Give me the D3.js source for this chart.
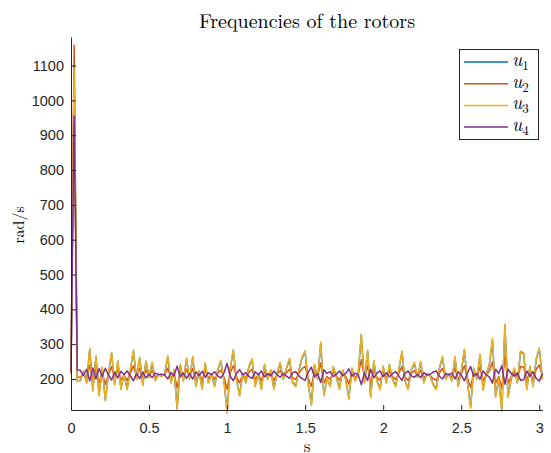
<!DOCTYPE html>
<html>
<head>
<meta charset="utf-8">
<script src="https://cdn.jsdelivr.net/npm/d3@7"></script>
<style>
  body { margin: 0; background: #fff; }
  svg { display: block; }
</style>
</head>
<body>
<div id="chart"></div>
<script>
// sample spacing in seconds (index * dt gives the time)
const dt = 0.02;

const u1 = [215,1085,195,196,222,190,286,168,264,154,
  232,140,215,274,185,250,173,212,172,225,
  281,200,260,183,250,205,246,197,212,208,
  214,264,190,225,116,240,195,257,200,262,
  180,222,173,245,190,215,180,225,251,195,
  106,230,282,200,154,215,190,235,255,180,
  215,172,240,200,225,172,215,245,200,230,
  257,190,180,225,260,278,185,128,240,200,
  303,154,200,180,235,205,172,225,200,145,
  230,195,215,326,190,280,150,250,195,172,
  235,190,240,200,180,225,278,195,172,225,
  245,205,248,190,215,210,185,172,230,262,
  200,215,195,262,180,220,283,190,120,230,
  200,268,170,215,240,312,150,200,111,355,
  150,200,230,190,278,272,172,235,180,255,
  287,200];

const u2 = [220,1158,205,205,215,203,240,195,231,189,
  219,184,213,235,201,226,197,211,196,216,
  238,207,230,200,226,209,224,206,211,210,
  212,231,203,216,175,222,205,228,207,230,
  199,215,197,224,203,213,199,216,226,205,
  171,218,238,207,189,213,203,220,228,199,
  213,196,222,207,216,196,213,224,207,218,
  228,203,199,216,230,236,201,179,222,207,
  246,189,207,199,220,209,196,216,207,186,
  218,205,213,255,203,237,188,226,205,196,
  220,203,222,207,199,216,236,205,196,216,
  224,209,225,203,213,211,201,196,218,230,
  207,213,205,230,199,214,238,203,176,218,
  207,233,195,213,222,249,188,207,173,266,
  188,207,218,203,236,234,196,220,199,228,
  240,207];

const u3 = [218,1092,193,198,224,188,289,165,267,151,
  234,137,217,277,183,253,170,214,169,228,
  284,198,263,181,252,203,249,195,213,207,
  215,267,188,227,112,243,193,260,198,265,
  178,224,170,248,188,216,178,227,254,193,
  102,232,285,198,151,217,188,237,258,178,
  216,169,243,198,227,170,216,248,198,232,
  260,188,177,227,263,281,183,124,243,198,
  306,151,202,178,237,204,170,227,198,142,
  232,193,216,329,188,283,147,253,193,169,
  237,188,243,198,177,227,281,193,169,227,
  248,204,251,188,216,209,183,169,232,265,
  198,216,193,265,178,222,286,188,116,232,
  198,271,167,216,243,316,147,202,107,358,
  147,202,232,188,281,275,169,237,178,258,
  290,198];

const u4 = [220,955,226,225,210,228,194,232,200,230,
  208,231,212,197,220,203,222,213,223,209,
  195,216,201,220,203,214,204,217,213,214,
  212,200,218,209,237,206,217,202,216,200,
  221,210,222,205,218,212,221,209,203,217,
  245,208,195,216,227,212,218,207,202,221,
  212,223,206,216,209,223,212,205,216,208,
  202,218,221,209,201,196,220,234,206,216,
  190,227,216,221,207,214,223,209,216,229,
  208,217,212,184,218,196,228,203,217,223,
  207,218,206,216,221,209,196,217,223,209,
  205,214,204,218,212,213,220,223,208,200,
  216,212,217,200,221,211,195,218,236,208,
  216,199,223,212,206,188,228,216,238,185,
  228,216,208,218,196,198,223,207,221,202,
  194,216];

const seriesNames = ["1", "2", "3", "4"];
const seriesColors = ["#0072BD", "#D95319", "#EDB120", "#7E2F8E"];
const xTicks = [0, 0.5, 1, 1.5, 2, 2.5, 3];
const yTicks = [200, 300, 400, 500, 600, 700, 800, 900, 1000, 1100];

const svgWidth = 551;
const svgHeight = 453;
const axisColor = "#262626";

const svg = d3.select("#chart")
  .append("svg")
  .attr("width", svgWidth)
  .attr("height", svgHeight);

const xScale = d3.scaleLinear()
  .domain([0, (u1.length - 1) * dt])
  .range([71, 542.4]);

const yScale = d3.scaleLinear()
  .domain([111, 1182])
  .range([410, 37]);

// lines, drawn in MATLAB order so u4 ends on top
const line = d3.line()
  .x((d, i) => xScale(i * dt))
  .y((d) => yScale(d));

[u1, u2, u3, u4].forEach((s, k) => {
  svg.append("path")
    .datum(s)
    .attr("fill", "none")
    .attr("stroke", seriesColors[k])
    .attr("stroke-width", 1.5)
    .attr("stroke-linejoin", "round")
    .attr("d", line);
});

// axes (ticks point inward, no box)
const xAxis = svg.append("g")
  .attr("transform", `translate(0,${yScale.range()[0]})`)
  .call(d3.axisBottom(xScale).tickValues(xTicks).tickSizeInner(-5).tickSizeOuter(0).tickPadding(13)
    .tickFormat(d3.format("")));

const yAxis = svg.append("g")
  .attr("transform", `translate(${xScale.range()[0]},0)`)
  .call(d3.axisLeft(yScale).tickValues(yTicks).tickSizeInner(-5).tickSizeOuter(0).tickPadding(7)
    .tickFormat(d3.format("d")));

[xAxis, yAxis].forEach((g) => {
  g.select(".domain").attr("stroke", axisColor).attr("stroke-width", 1);
  g.selectAll(".tick line").attr("stroke", axisColor);
  g.selectAll(".tick text")
    .attr("fill", axisColor)
    .style("font-family", "'Liberation Sans', Arial, sans-serif")
    .style("font-size", "14.5px");
});

// title and axis labels (LaTeX style serif)
const serif = "'Latin Modern Roman', 'CMU Serif', 'Liberation Serif', 'DejaVu Serif', serif";

svg.append("text")
  .attr("x", 307)
  .attr("y", 28)
  .attr("text-anchor", "middle")
  .style("font-family", serif)
  .style("font-size", "20px")
  .attr("fill", "#000")
  .text("Frequencies of the rotors");

svg.append("text")
  .attr("x", 307)
  .attr("y", 452)
  .attr("text-anchor", "middle")
  .style("font-family", serif)
  .style("font-size", "17px")
  .text("s");

svg.append("text")
  .attr("transform", "translate(24,225) rotate(-90)")
  .attr("text-anchor", "middle")
  .style("font-family", serif)
  .style("font-size", "16px")
  .text("rad/s");

// legend
const legend = svg.append("g").attr("transform", "translate(459,49)");

legend.append("rect")
  .attr("x", 0.5)
  .attr("y", 0.5)
  .attr("width", 79)
  .attr("height", 90)
  .attr("fill", "#fff")
  .attr("stroke", axisColor)
  .attr("stroke-width", 1);

seriesNames.forEach((n, k) => {
  const yy = 13 + k * 21.7;
  legend.append("line")
    .attr("x1", 5)
    .attr("x2", 49)
    .attr("y1", yy)
    .attr("y2", yy)
    .attr("stroke", seriesColors[k])
    .attr("stroke-width", 1.5);
  const t = legend.append("text")
    .attr("x", 53)
    .attr("y", yy + 4)
    .style("font-family", serif)
    .style("font-size", "19px");
  t.append("tspan").style("font-style", "italic").text("u");
  t.append("tspan")
    .attr("dy", 4)
    .style("font-size", "13px")
    .text(n);
});
</script>
</body>
</html>
